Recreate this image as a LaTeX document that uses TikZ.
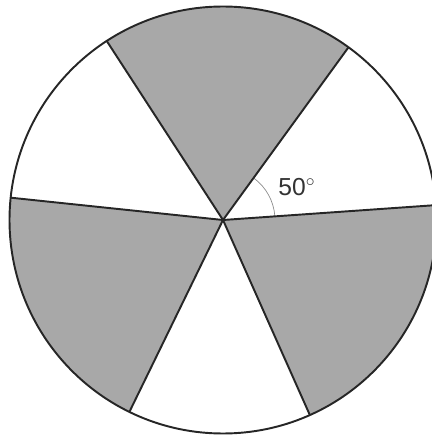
\documentclass[tikz,border=0pt]{standalone}
\usepackage{fontspec}
\setsansfont{Liberation Sans}
\usepackage{tikz}
\usetikzlibrary{calc}

\begin{document}
\begin{tikzpicture}[
    edge/.style={draw=black!85, line width=1.1pt},
    shaded/.style={fill=black!34},
    anglemark/.style={draw=black!45, line width=0.4pt},
    lbl/.style={font=\sffamily\fontsize{14}{16}\selectfont, text=black!80}
]
    \useasboundingbox (0,0) rectangle (8.64,8.74);
    \coordinate (c) at (4.46,4.34);
    \def\rad{4.27}
    % grey sectors
    \foreach \a/\b in {54/123, 174/244, 294/364}
        \fill[shaded] (c) -- ++(\a:\rad) arc[start angle=\a, end angle=\b, radius=\rad] -- cycle;
    % angle arc and label
    \draw[anglemark] ($(c)+(4:1.04)$) arc[start angle=4, end angle=54, radius=1.04];
    \node[lbl] (ang) at ($(c)+(24:1.62)$) {50$^\circ$};
    % spokes and rim
    \foreach \a in {4,54,123,174,244,294}
        \draw[edge] (c) -- ++(\a:\rad);
    \draw[edge] (c) circle[radius=\rad];
\end{tikzpicture}
\end{document}
